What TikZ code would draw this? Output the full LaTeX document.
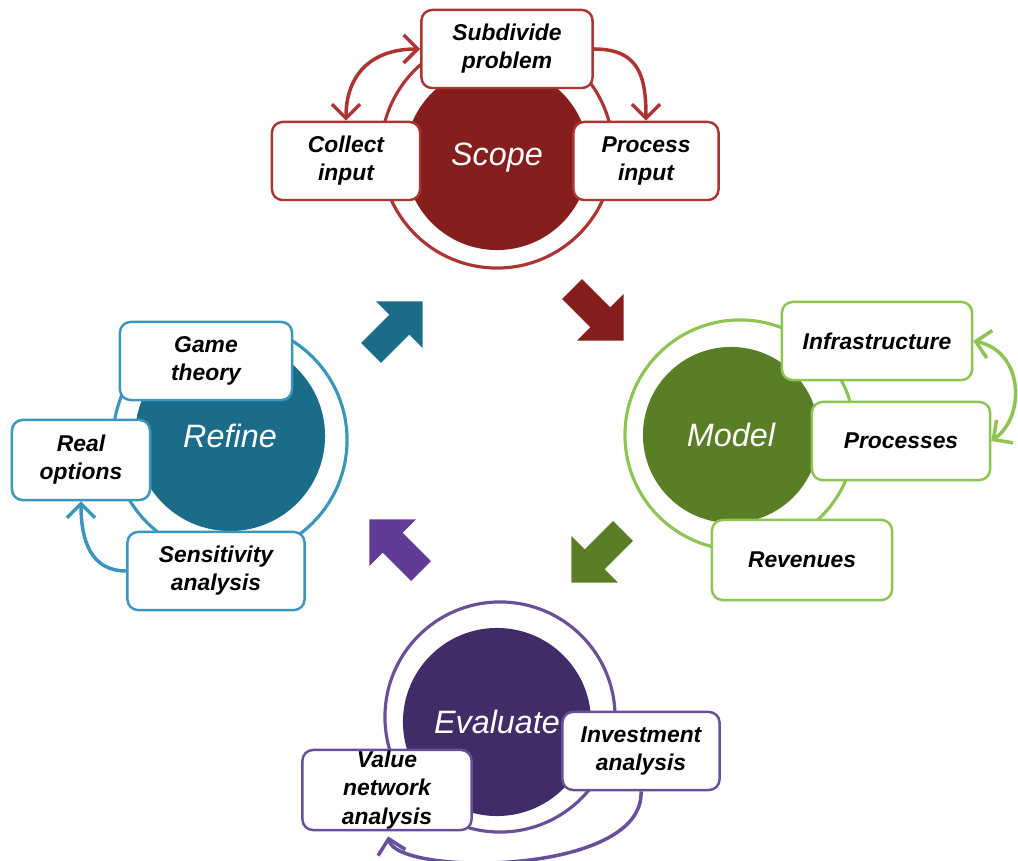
\documentclass[tikz,border=0pt]{standalone}
\usepackage{fontspec}
\setmainfont{Liberation Sans}
\usetikzlibrary{arrows.meta}

\definecolor{scopedark}{RGB}{133,30,28}
\definecolor{scopeline}{RGB}{172,52,50}
\definecolor{modeldark}{RGB}{90,126,38}
\definecolor{modelline}{RGB}{141,196,82}
\definecolor{refinedark}{RGB}{27,108,137}
\definecolor{refineline}{RGB}{58,150,188}
\definecolor{evaldark}{RGB}{66,44,104}
\definecolor{evalline}{RGB}{104,80,152}
\definecolor{evalarrow}{RGB}{96,60,150}

\tikzset{
  core/.style={circle, inner sep=0pt, text=white, font=\itshape\fontsize{9.2}{11}\selectfont},
  ring/.style={circle, line width=0.9pt, inner sep=0pt},
  task/.style={fill=white, rounded corners=3pt, line width=0.7pt, align=center, inner sep=0pt, minimum height=0.78cm, font=\bfseries\itshape\fontsize{6.5}{8}\selectfont},
  link/.style={line width=1pt, -{Straight Barb[length=4pt,width=8pt,line width=1pt]}},
  bothlink/.style={line width=1pt, {Straight Barb[length=4pt,width=8pt,line width=1pt]}-{Straight Barb[length=4pt,width=8pt,line width=1pt]}},
  blockarrow/.pic={\fill (0,-14) -- (40,-14) -- (40,-33) -- (73,0) -- (40,33) -- (40,14) -- (0,14) -- cycle ;}
}

\begin{document}
\begin{tikzpicture}[x=0.01cm, y=-0.01cm]
\useasboundingbox (0,0) rectangle (1018,861) ;

\node [ring, draw=scopeline, minimum size=2.32cm] (scopering) at (497,152) {} ;
\node [core, fill=scopedark, minimum size=1.84cm] (scope) at (497,158) {Scope} ;
\node [task, draw=scopeline, minimum width=1.71cm] (subdiv) at (507,49) {Subdivide\\problem} ;
\node [task, draw=scopeline, minimum width=1.48cm] (collect) at (346,161) {Collect\\input} ;
\node [task, draw=scopeline, minimum width=1.45cm] (process) at (646,161) {Process\\input} ;
\draw [bothlink, scopeline] (subdiv.west) .. controls +(-50,0) and +(0,-45) .. (collect.north) ;
\draw [link, scopeline] (subdiv.east) .. controls +(45,0) and +(0,-45) .. (process.north) ;

\node [ring, draw=modelline, minimum size=2.30cm] (modelring) at (740,435) {} ;
\node [core, fill=modeldark, minimum size=1.76cm] (model) at (731,435) {Model} ;
\node [task, draw=modelline, minimum width=1.90cm] (infra) at (877,341) {Infrastructure} ;
\node [task, draw=modelline, minimum width=1.78cm] (procs) at (901,441) {Processes} ;
\node [task, draw=modelline, minimum width=1.80cm, minimum height=0.80cm] (revenue) at (802,560) {Revenues} ;
\draw [bothlink, modelline] (infra.east) .. controls +(50,10) and +(35,-25) .. (procs.east) ;

\node [ring, draw=evalline, minimum size=2.30cm] (evalring) at (500,717) {} ;
\node [core, fill=evaldark, minimum size=1.88cm] (evaluate) at (497,722) {Evaluate} ;
\node [task, draw=evalline, minimum width=1.57cm] (invest) at (641,751) {Investment\\analysis} ;
\node [task, draw=evalline, minimum width=1.69cm, minimum height=0.80cm] (valnet) at (387,790) {Value\\network\\analysis} ;
\draw [link, evalline, shorten >=1.5pt] (invest.south) .. controls +(4,85) and +(10,45) .. (valnet.south) ;

\node [ring, draw=refineline, minimum size=2.34cm] (refinering) at (230,440) {} ;
\node [core, fill=refinedark, minimum size=1.90cm] (refine) at (230,436) {Refine} ;
\node [task, draw=refineline, minimum width=1.72cm] (game) at (206,361) {Game\\theory} ;
\node [task, draw=refineline, minimum width=1.38cm, minimum height=0.80cm] (realopt) at (81,460) {Real\\options} ;
\node [task, draw=refineline, minimum width=1.77cm] (sens) at (216,571) {Sensitivity\\analysis} ;
\draw [link, refineline] (sens.west) .. controls +(-35,0) and +(0,40) .. (realopt.south) ;

\pic [scopedark, rotate=-45] at (572,289) {blockarrow} ;
\pic [modeldark, rotate=-135] at (623,531) {blockarrow} ;
\pic [evalarrow, rotate=135] at (421,571) {blockarrow} ;
\pic [refinedark, rotate=45] at (371,353) {blockarrow} ;

\end{tikzpicture}
\end{document}
